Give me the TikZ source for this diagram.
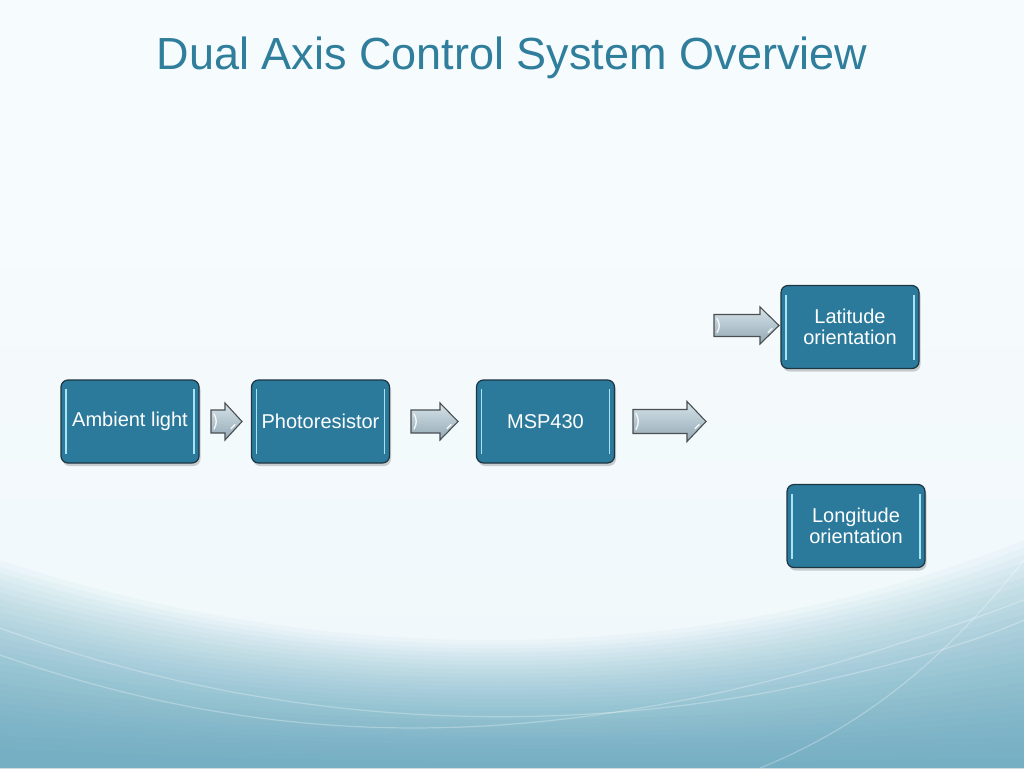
\documentclass[tikz,border=0pt]{standalone}
\usepackage{fontspec}
\setmainfont{Liberation Sans}
\usetikzlibrary{positioning}
\definecolor{titleblue}{HTML}{2F7E9C}
\definecolor{boxfill}{HTML}{2B7A9C}
\definecolor{boxedge}{HTML}{1E3542}
\definecolor{hilite}{HTML}{A8E4F4}
\definecolor{arrtop}{HTML}{D6E3E9}
\definecolor{arrbot}{HTML}{93A9B5}
\definecolor{arredge}{HTML}{4A4F52}
\definecolor{wave}{HTML}{559FB8}
\definecolor{bgA}{HTML}{F6FBFD}
\definecolor{bgB}{HTML}{F0F8FB}
\definecolor{bgC}{HTML}{E6F3F7}
\pgfdeclareverticalshading{bgshade}{100bp}{color(0bp)=(bgC); color(30bp)=(bgB); color(60bp)=(bgA); color(100bp)=(bgA)}
\tikzset{
  procbox/.style={rectangle, rounded corners=7pt, draw=boxedge, line width=1.2pt,
    fill=boxfill, text=white, font=\fontsize{20}{20.5}\selectfont, align=center,
    minimum width=138pt, minimum height=83pt, inner sep=1pt,
    path picture={
      \draw[hilite, line width=1.6pt]
        ([xshift=5pt,yshift=-9pt]path picture bounding box.north west) --
        ([xshift=5pt,yshift=9pt]path picture bounding box.south west);
      \draw[hilite, line width=1.6pt]
        ([xshift=-5pt,yshift=-9pt]path picture bounding box.north east) --
        ([xshift=-5pt,yshift=9pt]path picture bounding box.south east);
    }},
  boxshadow/.style={rectangle, rounded corners=7pt, fill=black, fill opacity=0.18,
    minimum width=138pt, minimum height=83pt},
  blockarr/.style={draw=arredge, line width=1.1pt, top color=arrtop, bottom color=arrbot, line join=miter},
  arrshine/.style={white, line width=1.4pt, line cap=round, opacity=0.85},
  whitecurve/.style={white, line width=1.2pt, opacity=0.28}
}
% block arrow: #1 left x, #2 head start x, #3 tip x, #4 centre y, #5 half shaft, #6 half head
\newcommand{\blockarrow}[6]{%
  \path[blockarr] (#1,#4-#5) -- (#2,#4-#5) -- (#2,#4-#6) -- (#3,#4) -- (#2,#4+#6)
     -- (#2,#4+#5) -- (#1,#4+#5) -- cycle;
  \draw[arrshine] (#1+3,#4-#5+4) .. controls (#1+6,#4-2) and (#1+6,#4+2) .. (#1+3,#4+#5-4);
  \draw[arrshine] (#3-7,#4+3) -- (#3-11,#4+7);
}
\begin{document}
\begin{tikzpicture}[x=1pt,y=-1pt]
\useasboundingbox (0,0) rectangle (1024,768);
% background
\shade[shading=bgshade] (0,0) rectangle (1024,768);
\foreach \k in {0,...,29}{
  \pgfmathsetmacro{\yl}{560+6.5*\k}
  \pgfmathsetmacro{\yr}{540+7.5*\k}
  \pgfmathsetmacro{\yc}{640+4.2*\k}
  \pgfmathsetmacro{\yk}{(8*\yc-\yl-\yr)/6}
  \fill[wave, fill opacity=0.042] (0,768) -- (0,\yl) .. controls (330,\yk) and (700,\yk) .. (1024,\yr) -- (1024,768) -- cycle;
}
\draw[whitecurve] (0,628) .. controls (250,720) and (520,740) .. (780,690) .. controls (900,665) and (980,640) .. (1024,620);
\draw[whitecurve] (0,655) .. controls (300,760) and (600,760) .. (1024,600);
\draw[whitecurve] (1024,560) .. controls (960,640) and (880,720) .. (760,768);
% title
\node[text=titleblue, font=\fontsize{45}{54}\selectfont] (title) at (512,58) {Dual Axis Control System Overview};
% shadows
\foreach \x/\y in {130/421.5, 320.5/421.5, 545.5/421.5, 850/327, 856/526}{
  \node[boxshadow] at (\x+1.5,\y+3) {};
}
% boxes
\node[procbox] (amb) at (130,421.5) {Ambient light};
\node[procbox] (photo) at (320.5,421.5) {Photoresistor};
\node[procbox] (msp) at (545.5,421.5) {MSP430};
\node[procbox] (lat) at (850,327) {Latitude\\orientation};
\node[procbox] (lon) at (856,526) {Longitude\\orientation};
% block arrows
\blockarrow{211}{225}{242}{421.5}{11.5}{18.5}
\blockarrow{411}{440}{458}{421.5}{11.5}{18.5}
\blockarrow{633}{687}{706}{421.5}{12}{20}
\blockarrow{714}{760}{779}{325.5}{11}{18.5}
\end{tikzpicture}
\end{document}
